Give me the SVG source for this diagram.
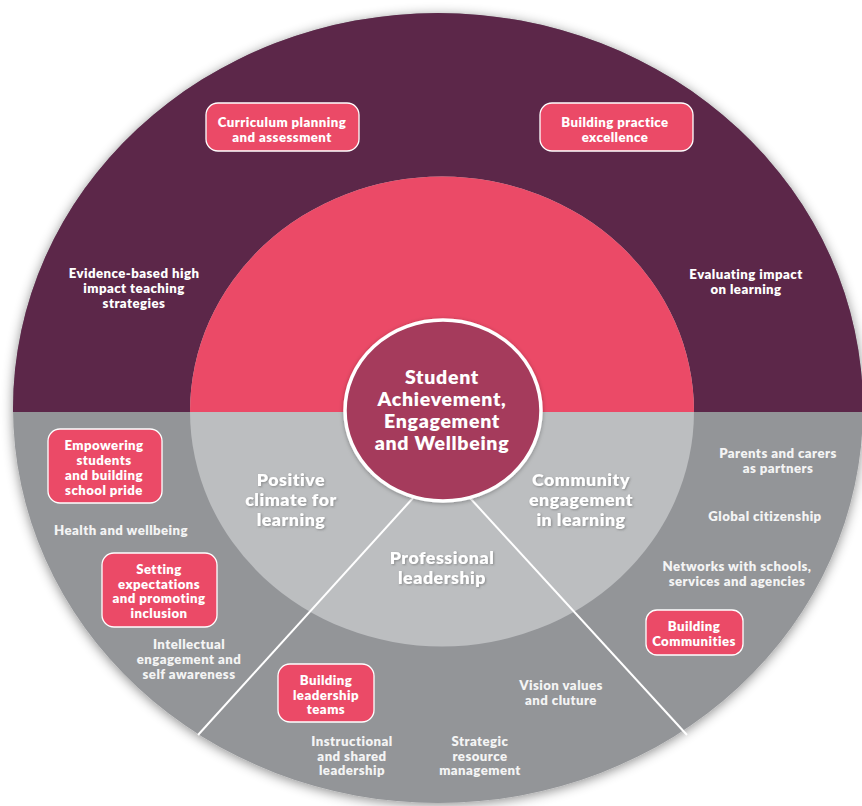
<svg xmlns="http://www.w3.org/2000/svg" width="862" height="806" viewBox="0 0 862 806">
<defs>
<clipPath id="topHalf"><rect x="0" y="0" width="862" height="412"/></clipPath>
<filter id="outerShadow" x="-10%" y="-10%" width="120%" height="120%">
<feDropShadow dx="0" dy="2" stdDeviation="6" flood-color="#000" flood-opacity="0.45"/>
</filter>
<filter id="coreShadow" x="-20%" y="-20%" width="140%" height="140%">
<feDropShadow dx="0" dy="1" stdDeviation="2" flood-color="#000" flood-opacity="0.3"/>
</filter>
<filter id="txtShadow" x="-10%" y="-20%" width="120%" height="140%">
<feDropShadow dx="1" dy="1" stdDeviation="0.8" flood-color="#555" flood-opacity="0.5"/>
</filter>
<style>
text { font-family: Lato, "Open Sans", sans-serif; font-weight: 800; text-anchor: middle; fill: #ffffff; }
.s { font-size: 13.2px; letter-spacing: 0.45px; }
.g { fill: #f4f4f4; }
.m { font-size: 17.8px; letter-spacing: 0.5px; filter: url(#txtShadow); }
.c { font-size: 19.5px; letter-spacing: 0.7px; }
.box { fill: #EB4A67; stroke: #ffffff; stroke-width: 1.3; }
.conn { stroke: #ffffff; stroke-width: 2; fill: none; }
</style>
</defs>

<g id="outer-ring">
<ellipse cx="438" cy="408" rx="425" ry="395" fill="#939598" filter="url(#outerShadow)"/>
<ellipse cx="438" cy="408" rx="425" ry="395" fill="#5C2749" clip-path="url(#topHalf)"/>
</g>

<g id="middle-ring">
<ellipse cx="442" cy="411.5" rx="252" ry="235" fill="#BCBEC0"/>
<ellipse cx="442" cy="411.5" rx="252" ry="235" fill="#EB4A67" clip-path="url(#topHalf)"/>
</g>

<g id="connectors">
<line class="conn" x1="413" y1="498" x2="198" y2="735"/>
<line class="conn" x1="470" y1="498" x2="687" y2="735"/>
</g>

<g id="core">
<ellipse cx="443" cy="410.5" rx="98" ry="90.5" fill="#A53B5B" stroke="#ffffff" stroke-width="3.5" filter="url(#coreShadow)"/>
<text class="c" x="442" y="384">Student</text>
<text class="c" x="442" y="406">Achievement,</text>
<text class="c" x="442" y="428">Engagement</text>
<text class="c" x="442" y="450">and Wellbeing</text>
</g>

<g id="curriculum-planning">
<rect class="box" x="206" y="103" width="153" height="48" rx="12"/>
<text class="s" x="282" y="127">Curriculum planning</text>
<text class="s" x="282" y="142">and assessment</text>
</g>

<g id="building-practice">
<rect class="box" x="540" y="103" width="153" height="48" rx="12"/>
<text class="s" x="615" y="127">Building practice</text>
<text class="s" x="615" y="142">excellence</text>
</g>

<g id="evidence-based">
<text class="s" x="134" y="278">Evidence-based high</text>
<text class="s" x="134" y="293">impact teaching</text>
<text class="s" x="134" y="308">strategies</text>
</g>

<g id="evaluating-impact">
<text class="s" x="746" y="278.5">Evaluating impact</text>
<text class="s" x="746" y="293.5">on learning</text>
</g>

<g id="empowering-students">
<rect class="box" x="48" y="429" width="114" height="74" rx="12"/>
<text class="s" x="104" y="450">Empowering</text>
<text class="s" x="104" y="465">students</text>
<text class="s" x="104" y="480">and building</text>
<text class="s" x="104" y="495">school pride</text>
</g>

<g id="health-wellbeing">
<text class="s g" x="121" y="535">Health and wellbeing</text>
</g>

<g id="setting-expectations">
<rect class="box" x="102" y="553" width="115" height="74" rx="12"/>
<text class="s" x="159" y="574">Setting</text>
<text class="s" x="159" y="588.7">expectations</text>
<text class="s" x="159" y="603.4">and promoting</text>
<text class="s" x="159" y="618">inclusion</text>
</g>

<g id="intellectual-engagement">
<text class="s g" x="189" y="649">Intellectual</text>
<text class="s g" x="189" y="664">engagement and</text>
<text class="s g" x="189" y="679">self awareness</text>
</g>

<g id="positive-climate">
<text class="m" x="291" y="486">Positive</text>
<text class="m" x="291" y="506">climate for</text>
<text class="m" x="291" y="526">learning</text>
</g>

<g id="professional-leadership">
<text class="m" x="442" y="563.5">Professional</text>
<text class="m" x="442" y="583.5">leadership</text>
</g>

<g id="community-engagement">
<text class="m" x="581" y="486">Community</text>
<text class="m" x="581" y="506">engagement</text>
<text class="m" x="581" y="526">in learning</text>
</g>

<g id="parents-carers">
<text class="s g" x="778" y="458">Parents and carers</text>
<text class="s g" x="778" y="473">as partners</text>
</g>

<g id="global-citizenship">
<text class="s g" x="765" y="521">Global citizenship</text>
</g>

<g id="networks">
<text class="s g" x="737" y="571">Networks with schools,</text>
<text class="s g" x="737" y="586">services and agencies</text>
</g>

<g id="building-communities">
<rect class="box" x="646" y="610" width="97" height="45" rx="11"/>
<text class="s" x="694" y="631">Building</text>
<text class="s" x="694" y="646">Communities</text>
</g>

<g id="vision-values">
<text class="s g" x="561" y="690">Vision values</text>
<text class="s g" x="561" y="704.5">and cluture</text>
</g>

<g id="building-leadership-teams">
<rect class="box" x="278" y="664" width="96" height="58" rx="12"/>
<text class="s" x="326" y="685">Building</text>
<text class="s" x="326" y="699.5">leadership</text>
<text class="s" x="326" y="714">teams</text>
</g>

<g id="instructional-leadership">
<text class="s g" x="352" y="746">Instructional</text>
<text class="s g" x="352" y="760.5">and shared</text>
<text class="s g" x="352" y="775">leadership</text>
</g>

<g id="strategic-resource">
<text class="s g" x="480" y="746">Strategic</text>
<text class="s g" x="480" y="760.5">resource</text>
<text class="s g" x="480" y="775">management</text>
</g>
</svg>
